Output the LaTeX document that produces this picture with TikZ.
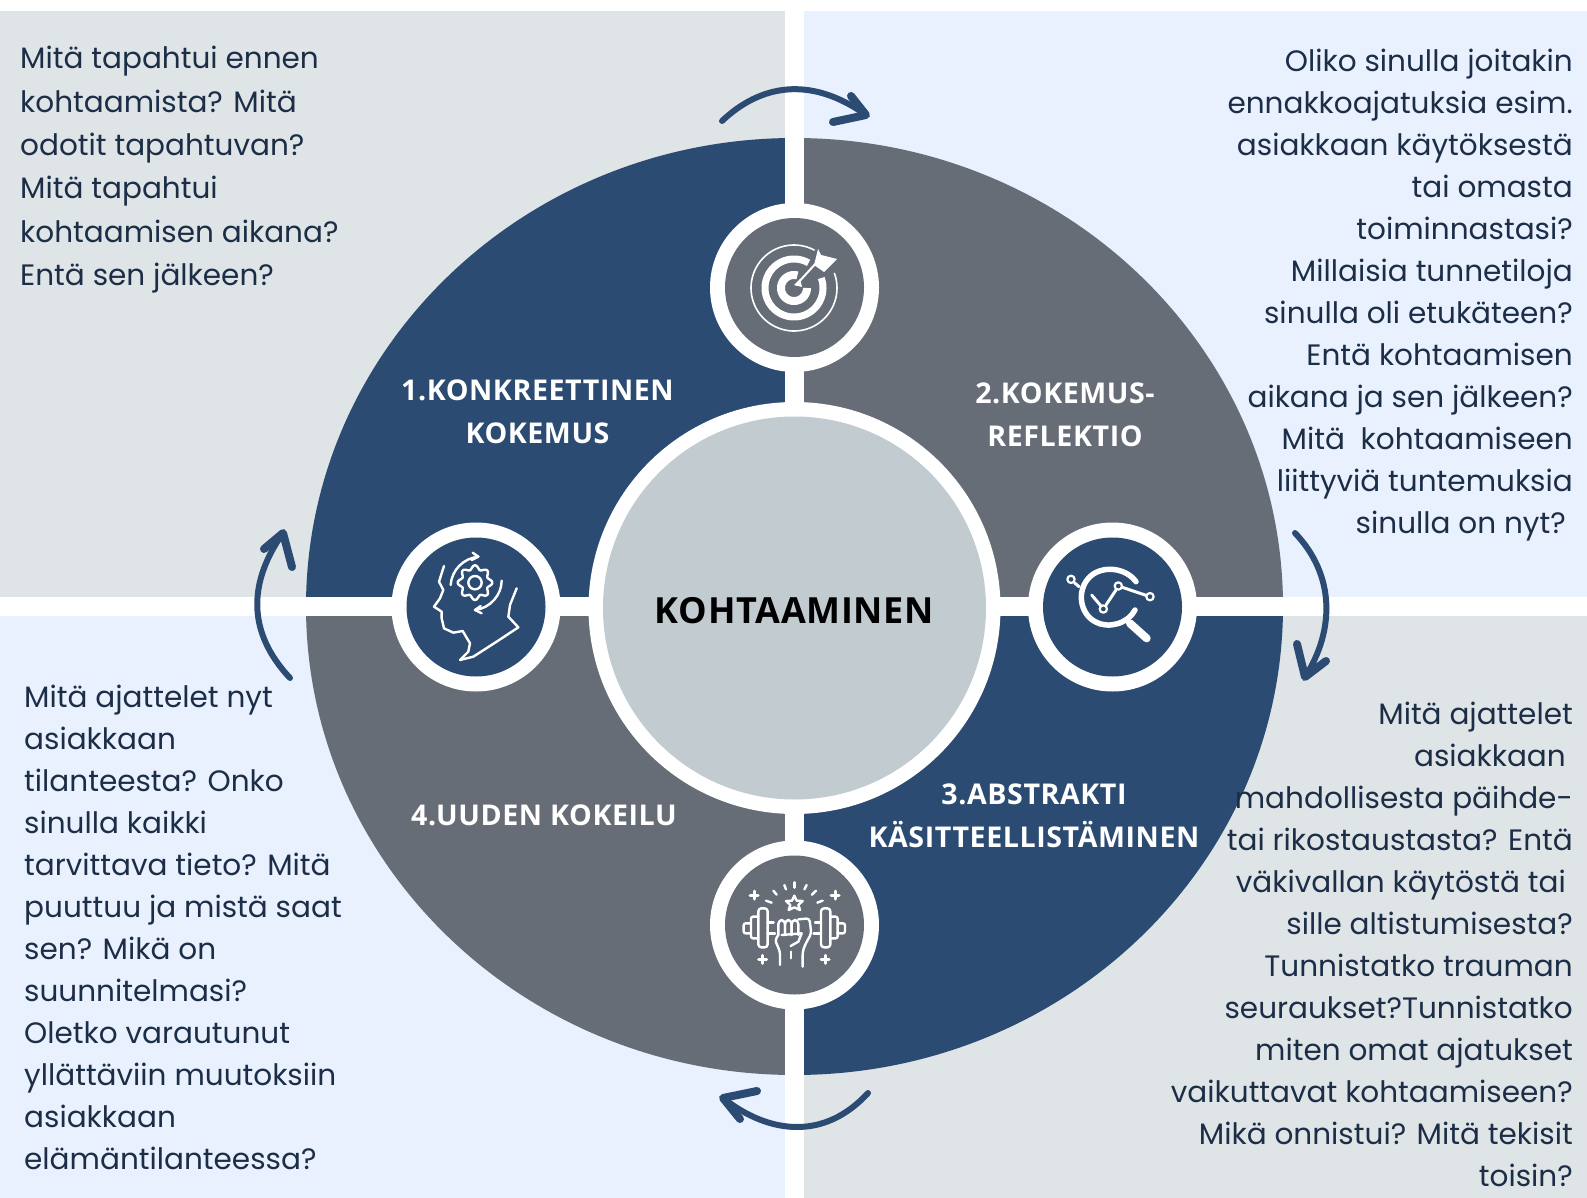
\documentclass[tikz,border=0pt]{standalone}
\usepackage{fontspec}
\setmainfont{Poppins}
\newfontfamily\labelfont[LetterSpace=2]{Open Sans}
\usetikzlibrary{calc}
\definecolor{navy}{HTML}{2B4B73}
\definecolor{slate}{HTML}{676D76}
\definecolor{hub}{HTML}{C2CBD0}
\definecolor{paleg}{HTML}{DFE4E6}
\definecolor{paleb}{HTML}{E9F1FE}
\definecolor{ink}{HTML}{1C2E47}
\tikzset{
  quadtext/.style={inner sep=0pt,text=ink,font=\fontsize{29.5}{43.4}\selectfont},
  quadtextb/.style={quadtext,font=\fontsize{29.5}{42}\selectfont},
  steplabel/.style={inner sep=0pt,text=white,align=center,font=\labelfont\bfseries\fontsize{28.6}{43.4}\selectfont},
  ringnode/.style={circle,fill=white,minimum size=169pt,inner sep=0pt},
  discnode/.style={circle,minimum size=139pt,inner sep=0pt},
  icon/.style={draw=white,line width=2.4pt,line cap=round,line join=round},
  cyclearrow/.style={draw=navy,line width=6pt,line cap=round,line join=round},
  cyclehead/.style={cyclearrow,line width=8pt},
}
\begin{document}
\begin{tikzpicture}[x=1pt,y=-1pt]
\useasboundingbox (0,0) rectangle (1587,1198);
\fill[white] (0,0) rectangle (1587,1198);
% background quadrants
\fill[paleg] (0,11) rectangle (785,597);
\fill[paleb] (803.5,11) rectangle (1587,597);
\fill[paleb] (0,616) rectangle (785,1198);
\fill[paleg] (803.5,616) rectangle (1587,1198);
% big disc
\begin{scope}
\clip (0,0) rectangle (794.5,606.5);
\fill[navy] (794.5,606.5) ellipse [x radius=488.5,y radius=468.5];
\end{scope}
\begin{scope}
\clip (794.5,0) rectangle (1587,606.5);
\fill[slate] (794.5,606.5) ellipse [x radius=488.5,y radius=468.5];
\end{scope}
\begin{scope}
\clip (0,606.5) rectangle (794.5,1198);
\fill[slate] (794.5,606.5) ellipse [x radius=488.5,y radius=468.5];
\end{scope}
\begin{scope}
\clip (794.5,606.5) rectangle (1587,1198);
\fill[navy] (794.5,606.5) ellipse [x radius=488.5,y radius=468.5];
\end{scope}
% white cross
\fill[white] (785,0) rectangle (803.5,1198);
\fill[white] (0,597) rectangle (1587,616);
% hub
\node[circle,fill=white,minimum size=412pt,inner sep=0pt] (hubring) at (794.5,608) {};
\node[circle,fill=hub,minimum size=383pt,inner sep=0pt] (hubdisc) at (794.5,608) {};
\node[inner sep=0pt,text=black,font=\labelfont\bfseries\fontsize{36}{40}\selectfont] (title) at (794.5,610.5) {KOHTAAMINEN};
% small discs
\node[ringnode] (r1) at (794.5,287.5) {};
\node[discnode,fill=slate] (d1) at (794.5,287.5) {};
\node[ringnode] (r2) at (1112.5,607) {};
\node[discnode,fill=navy] (d2) at (1112.5,607) {};
\node[ringnode] (r3) at (794.5,925) {};
\node[discnode,fill=slate] (d3) at (794.5,925) {};
\node[ringnode] (r4) at (476,607) {};
\node[discnode,fill=navy] (d4) at (476,607) {};
% labels
\node[steplabel] (l1) at (537.5,412) {1.KONKREETTINEN\\KOKEMUS};
\node[steplabel] (l2) at (1065,415) {2.KOKEMUS-\\REFLEKTIO};
\node[steplabel] (l3) at (1034,816) {3.ABSTRAKTI\\KÄSITTEELLISTÄMINEN};
\node[steplabel] (l4) at (544,815.5) {4.UUDEN KOKEILU};
% quadrant texts
\node[quadtext,anchor=north west,align=left] (t1) at (20,46) {Mitä tapahtui ennen\\kohtaamista? Mitä\\odotit tapahtuvan?\\Mitä tapahtui\\kohtaamisen aikana?\\Entä sen jälkeen?};
\node[quadtextb,anchor=north east,align=right] (t2) at (1573,49) {Oliko sinulla joitakin\\ennakkoajatuksia esim.\\asiakkaan käytöksestä\\tai omasta\\toiminnastasi?\\Millaisia tunnetiloja\\sinulla oli etukäteen?\\Entä kohtaamisen\\aikana ja sen jälkeen?\\Mitä\ \ kohtaamiseen\\liittyviä tuntemuksia\\sinulla on nyt?\kern7pt\relax};
\node[quadtextb,anchor=north east,align=right] (t3) at (1573,702) {Mitä ajattelet\\asiakkaan\kern7pt\relax\\mahdollisesta päihde-\\tai rikostaustasta? Entä\\väkivallan käytöstä tai\kern7pt\relax\\sille altistumisesta?\\Tunnistatko trauman\\seuraukset?Tunnistatko\\miten omat ajatukset\\vaikuttavat kohtaamiseen?\\Mikä onnistui? Mitä tekisit\\toisin?};
\node[quadtextb,anchor=north west,align=left] (t4) at (24,685) {Mitä ajattelet nyt\\asiakkaan\\tilanteesta? Onko\\sinulla kaikki\\tarvittava tieto? Mitä\\puuttuu ja mistä saat\\sen? Mikä on\\suunnitelmasi?\\Oletko varautunut\\yllättäviin muutoksiin\\asiakkaan\\elämäntilanteessa?};
% cycle arrows
\coordinate (a1s) at (722,121); \coordinate (a1e) at (866,115);
\coordinate (a2s) at (1295,533); \coordinate (a2e) at (1305,677);
\coordinate (a3s) at (868,1093); \coordinate (a3e) at (723,1098);
\coordinate (a4s) at (290,678); \coordinate (a4e) at (283,533);
\path[cyclearrow] (a1s) .. controls (760,85) and (810,75) .. (a1e);
\path[cyclehead] (851,96) -- (a1e) -- (833,122);
\path[cyclearrow] (a2s) .. controls (1335,575) and (1335,630) .. (a2e);
\path[cyclehead] (1297,644) -- (a2e) -- (1326,661);
\path[cyclearrow] (a3s) .. controls (825,1140) and (770,1135) .. (a3e);
\path[cyclehead] (757,1091) -- (a3e) -- (740,1119);
\path[cyclearrow] (a4s) .. controls (245,630) and (250,580) .. (a4e);
\path[cyclehead] (264,549) -- (a4e) -- (292,567);
% target icon
\begin{scope}[shift={(794,288)},x=1pt,y=-1pt]
\draw[icon,line width=1.6pt] plot[domain=62:380,samples=80] ({43*cos(\x)},{-43*sin(\x)});
\draw[icon,line width=7pt,line cap=butt] plot[domain=60:380,samples=80] ({29*cos(\x)},{-29*sin(\x)});
\draw[icon,line width=8pt,line cap=butt] plot[domain=75:360,samples=80] ({13*cos(\x)},{-13*sin(\x)});
\draw[icon,line width=2pt] (2,-3) -- (24,-27);
\fill[white] (6,-9) -- (0,-3) -- (8,-1) -- cycle;
\fill[white] (20,-23) -- (24,-39) -- (27,-33) -- (43,-29) -- (30,-16) -- cycle;
\end{scope}
% analysis icon
\begin{scope}[shift={(1000,510)},x=0.33333pt,y=-0.33333pt]
\draw[icon,line width=5.5pt] (408,215) .. controls (375,170) and (300,165) .. (265,205) .. controls (230,245) and (240,310) .. (285,335) .. controls (325,358) and (385,340) .. (405,300);
\draw[icon,line width=8pt] (390,340) -- (440,385);
\draw[icon,line width=3pt] (275,255) -- (303,288);
\draw[icon,line width=3pt] (318,285) -- (348,240);
\draw[icon,line width=3pt] (367,232) -- (438,256);
\draw[icon,line width=2.2pt] (310,297) circle[radius=11];
\draw[icon,line width=2.2pt] (355,228) circle[radius=11];
\draw[icon,line width=2.2pt] (450,260) circle[radius=11];
\draw[icon,line width=2.2pt] (213,208) circle[radius=11];
\draw[icon,line width=3pt] (223,218) -- (237,230);
\end{scope}
% head icon
\begin{scope}[shift={(240,510)},x=0.33333pt,y=-0.33333pt]
\draw[icon] (612,168) -- (597,215) -- (610,240) -- (600,265) -- (582,290) -- (605,305) -- (605,325) -- (612,355) -- (640,368) -- (668,363) -- (690,400) -- (685,425) -- (660,450) -- (700,440) -- (770,395) -- (835,352) -- (805,320) -- (810,285) -- (830,235);
\draw[icon] plot[domain=0:360,samples=97] ({705+(46+6*cos(8*\x))*cos(\x)},{218+(46+6*cos(8*\x))*sin(\x)}) -- cycle;
\draw[icon] (705,218) circle[radius=20];
\draw[icon] (632,225) .. controls (635,180) and (670,145) .. (715,140);
\draw[icon] (698,128) -- (715,140) -- (695,150);
\draw[icon] (785,212) .. controls (785,255) and (750,295) .. (705,300);
\draw[icon] (725,310) -- (705,300) -- (722,288);
\end{scope}
% strength icon
\begin{scope}[shift={(690,820)},x=0.33333pt,y=-0.33333pt]
\foreach \m/\c in {1/313,-1/313}{
 \begin{scope}[shift={(\c,0)},xscale=\m]
 \draw[icon,rounded corners=3pt] (-108,265) rectangle (-80,382);
 \draw[icon,rounded corners=2pt] (-108,290) -- (-130,290) -- (-130,355) -- (-108,355);
 \draw[icon,rounded corners=2pt] (-130,310) -- (-152,310) -- (-152,340) -- (-130,340);
 \draw[icon] (-80,308) -- (-62,308);
 \draw[icon] (-80,340) -- (-58,340);
 \end{scope}
}
\foreach \x in {265,285,305}{
 \draw[icon,rounded corners=4pt] (\x,345) -- (\x,300) -- (\x+20,300) -- (\x+20,345);
}
\draw[icon,rounded corners=3pt] (325,298) -- (358,295) -- (364,340) -- (345,375) -- (338,395) -- (338,440);
\draw[icon,rounded corners=3pt] (265,345) -- (255,360) -- (270,395) -- (270,435);
\draw[icon] (275,345) -- (335,340) -- (325,365) -- (302,378);
\draw[icon] (303,395) -- (303,415);
\draw[icon] (313,227) -- (320,242) -- (338,243) -- (325,255) -- (330,270) -- (313,262) -- (296,270) -- (301,255) -- (288,243) -- (306,242) -- cycle;
\foreach \a/\b/\c/\d in {313/187/313/203,283/195/288/208,343/208/350/195,250/212/260/224,366/224/378/212,228/242/245/248,382/248/398/242}{
 \draw[icon] (\a,\b) -- (\c,\d);
}
\foreach \x/\y in {192/225,435/225,218/418,405/418}{
 \draw[icon,line width=3pt] (\x-12,\y) -- (\x+12,\y) (\x,\y-12) -- (\x,\y+12);
}
\end{scope}
\end{tikzpicture}
\end{document}
